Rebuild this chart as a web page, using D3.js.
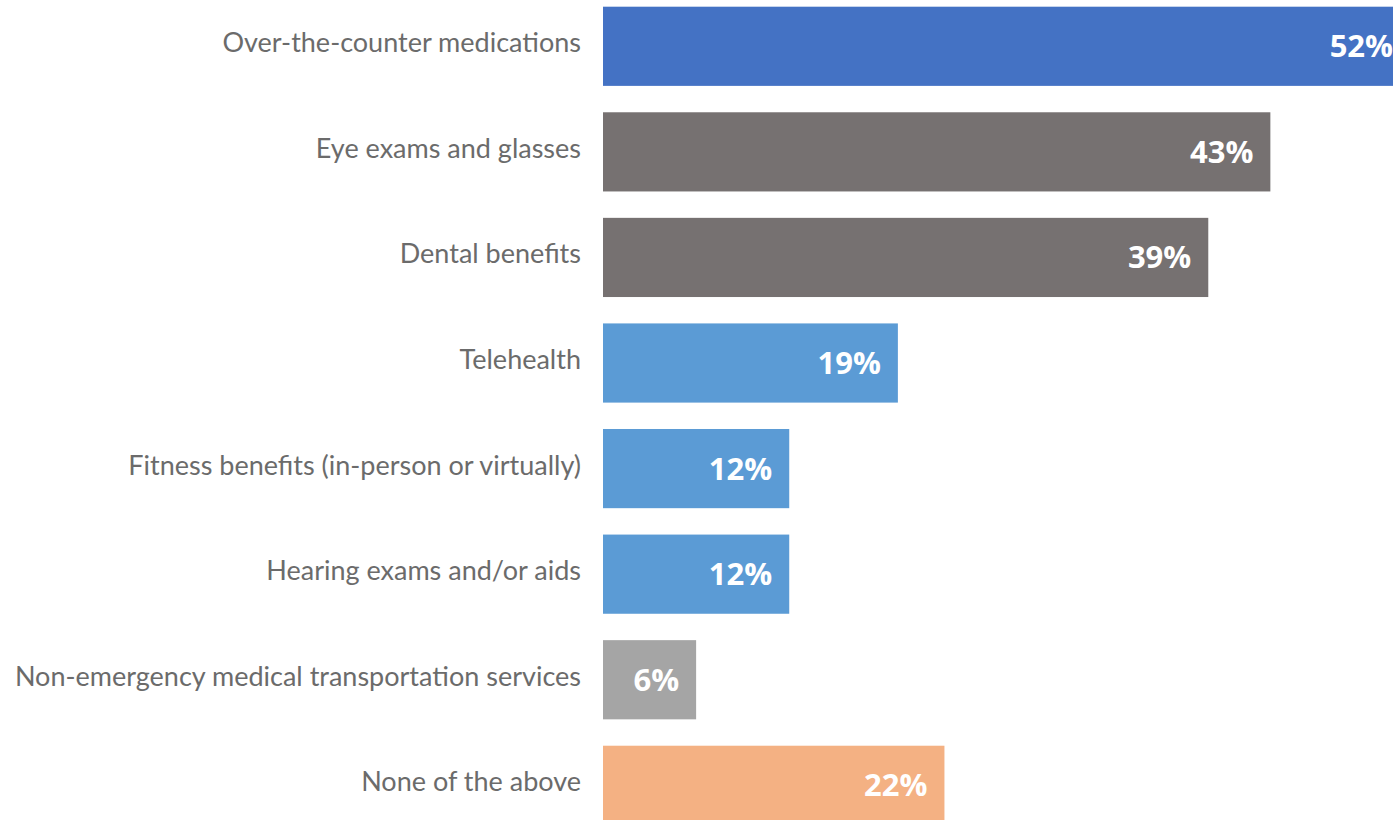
<!DOCTYPE html>
<html>
<head>
<meta charset="utf-8">
<script src="https://cdn.jsdelivr.net/npm/d3@7"></script>
<style>
  html, body { margin: 0; padding: 0; background: #fff; overflow: hidden; }
  svg { display: block; }
</style>
</head>
<body>
<script>
// Share of respondents using each supplemental benefit (percent)
const categories = [
  "Over-the-counter medications",
  "Eye exams and glasses",
  "Dental benefits",
  "Telehealth",
  "Fitness benefits (in-person or virtually)",
  "Hearing exams and/or aids",
  "Non-emergency medical transportation services",
  "None of the above"
];
const values = [52, 43, 39, 19, 12, 12, 6, 22];
const barColors = ["#4472C4", "#767171", "#767171", "#5B9BD5", "#5B9BD5", "#5B9BD5", "#A5A5A5", "#F4B183"];

const width = 1393, height = 820;
const svg = d3.select("body").append("svg")
  .attr("width", width)
  .attr("height", height);

const x = d3.scaleLinear().domain([0, 100]).range([603, 603 + 1552]);
const y = d3.scaleBand()
  .domain(categories)
  .range([-6.5, 838.1])
  .paddingInner(0.25)
  .paddingOuter(0.125);

const rows = categories.map((c, i) => ({ cat: c, val: values[i], color: barColors[i] }));

// bars
svg.append("g").selectAll("rect")
  .data(rows)
  .join("rect")
  .attr("x", x(0))
  .attr("y", d => y(d.cat))
  .attr("width", d => x(d.val) - x(0))
  .attr("height", y.bandwidth())
  .attr("fill", d => d.color);

// category labels
svg.append("g").selectAll("text")
  .data(rows)
  .join("text")
  .attr("x", x(0) - 22)
  .attr("y", d => y(d.cat) + y.bandwidth() / 2 + 6)
  .attr("text-anchor", "end")
  .attr("font-family", "Lato, 'Open Sans', sans-serif")
  .attr("font-size", 27)
  .attr("fill", "#6b6b6b")
  .text(d => d.cat);

// value labels inside bar ends
svg.append("g").selectAll("text")
  .data(rows)
  .join("text")
  .attr("x", d => x(d.val) - 17)
  .attr("y", d => y(d.cat) + y.bandwidth() / 2 + 11)
  .attr("text-anchor", "end")
  .attr("font-family", "'Open Sans', sans-serif")
  .attr("font-weight", "bold")
  .attr("font-size", 31)
  .attr("fill", "#ffffff")
  .text(d => d.val + "%");
</script>
</body>
</html>
